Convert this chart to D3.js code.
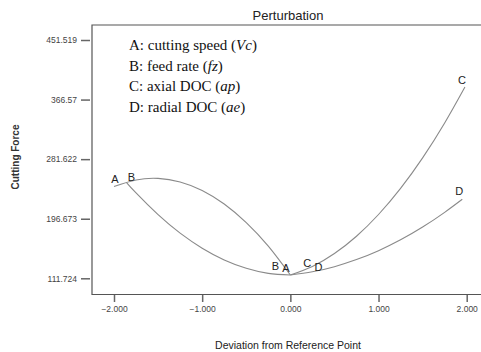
<!DOCTYPE html>
<html>
<head>
<meta charset="utf-8">
<script src="https://cdn.jsdelivr.net/npm/d3@7"></script>
<style>
  body { margin: 0; background: #fff; }
  svg { display: block; }
</style>
</head>
<body>
<div id="chart"></div>
<script>
const width = 481;
const height = 352;

// coded deviation values and response read for each factor
const devA = [-2.0, -1.75, -1.5, -1.25, -1.0, -0.75, -0.5, -0.25, 0];
const forceA = [242.7, 252.0, 254.2, 249.1, 237.0, 217.6, 191.1, 157.5, 116.4];
const devB = [-1.86, -1.75, -1.5, -1.25, -1.0, -0.75, -0.5, -0.25, 0];
const forceB = [248.6, 233.4, 202.4, 176.1, 154.6, 137.9, 126.0, 118.8, 116.4];
const devC = [0, 0.25, 0.5, 0.75, 1.0, 1.25, 1.5, 1.75, 1.98];
const forceC = [116.4, 128.6, 147.0, 171.7, 202.7, 239.9, 283.4, 333.2, 384.5];
const devD = [0, 0.25, 0.5, 0.75, 1.0, 1.25, 1.5, 1.75, 1.95];
const forceD = [116.4, 121.0, 128.3, 138.4, 151.1, 166.6, 184.8, 205.8, 224.4];

const yTicks = [111.724, 196.673, 281.622, 366.57, 451.519];
const xTicks = [-2, -1, 0, 1, 2];
const legendLines = [
  ["A: cutting speed (", "Vc", ")"],
  ["B: feed rate (", "fz", ")"],
  ["C: axial DOC (", "ap", ")"],
  ["D: radial DOC (", "ae", ")"]
];

const svg = d3.select("#chart")
  .append("svg")
  .attr("width", width)
  .attr("height", height);

const x = d3.scaleLinear().domain([-2, 2]).range([114, 466.7]);
const y = d3.scaleLinear().domain([111.724, 451.519]).range([278.3, 40]);

// frame (right side runs off the picture)
svg.append("path")
  .attr("d", "M 486 25 H 92 V 294.5 H 486")
  .attr("fill", "none")
  .attr("stroke", "#555")
  .attr("stroke-width", 1.2);

// y axis
const yAxis = svg.append("g")
  .attr("transform", "translate(90,0)")
  .call(d3.axisLeft(y).tickValues(yTicks).tickSize(9).tickPadding(4)
    .tickFormat(d => d3.format("")(d)));
yAxis.select(".domain").remove();
yAxis.selectAll("line").attr("stroke", "#666").attr("stroke-width", 1.5);
yAxis.selectAll("text")
  .attr("font-family", "Arial, 'Liberation Sans', sans-serif")
  .attr("font-size", "8.5px")
  .attr("fill", "#444");

// x axis
const xAxis = svg.append("g")
  .attr("transform", "translate(0,295)")
  .call(d3.axisBottom(x).tickValues(xTicks).tickSize(7).tickPadding(4)
    .tickFormat(d3.format(".3f")));
xAxis.select(".domain").remove();
xAxis.selectAll("line").attr("stroke", "#666").attr("stroke-width", 1.5);
xAxis.selectAll("text")
  .attr("font-family", "Arial, 'Liberation Sans', sans-serif")
  .attr("font-size", "8.5px")
  .attr("fill", "#444");

// curves
const line = d3.line()
  .x(d => x(d[0]))
  .y(d => y(d[1]))
  .curve(d3.curveNatural);

const series = [
  d3.zip(devA, forceA),
  d3.zip(devB, forceB),
  d3.zip(devC, forceC),
  d3.zip(devD, forceD)
];

svg.selectAll(".curve")
  .data(series)
  .enter()
  .append("path")
  .attr("class", "curve")
  .attr("d", line)
  .attr("fill", "none")
  .attr("stroke", "#8a8a8a")
  .attr("stroke-width", 1.1);

// curve end labels
const endLabels = [
  { t: "A", d: devA[0], v: forceA[0], dx: 1, dy: -3 },
  { t: "B", d: devB[0], v: forceB[0], dx: 5, dy: -1 },
  { t: "B", d: -0.17, v: 116.4, dx: 0, dy: -5 },
  { t: "A", d: -0.05, v: 116.4, dx: 0, dy: -3 },
  { t: "C", d: 0.19, v: 116.4, dx: 0, dy: -8 },
  { t: "D", d: 0.32, v: 116.4, dx: 0, dy: -4 },
  { t: "C", d: devC[devC.length - 1], v: forceC[forceC.length - 1], dx: -3, dy: -3 },
  { t: "D", d: devD[devD.length - 1], v: forceD[forceD.length - 1], dx: -3, dy: -4 }
];

svg.selectAll(".lbl")
  .data(endLabels)
  .enter()
  .append("text")
  .attr("class", "lbl")
  .attr("x", d => x(d.d) + d.dx)
  .attr("y", d => y(d.v) + d.dy)
  .attr("text-anchor", "middle")
  .attr("font-family", "Arial, 'Liberation Sans', sans-serif")
  .attr("font-size", "11px")
  .attr("fill", "#222")
  .text(d => d.t);

// title and axis titles
svg.append("text")
  .attr("x", 288)
  .attr("y", 20)
  .attr("text-anchor", "middle")
  .attr("font-family", "Arial, 'Liberation Sans', sans-serif")
  .attr("font-size", "13px")
  .attr("fill", "#222")
  .text("Perturbation");

svg.append("text")
  .attr("x", 288)
  .attr("y", 349)
  .attr("text-anchor", "middle")
  .attr("font-family", "Arial, 'Liberation Sans', sans-serif")
  .attr("font-size", "10.5px")
  .attr("fill", "#222")
  .text("Deviation from Reference Point");

svg.append("text")
  .attr("transform", "translate(19,157) rotate(-90)")
  .attr("text-anchor", "middle")
  .attr("font-family", "Arial, 'Liberation Sans', sans-serif")
  .attr("font-size", "10px")
  .attr("font-weight", "bold")
  .attr("fill", "#333")
  .text("Cutting Force");

// legend block
const legend = svg.append("g")
  .attr("font-family", "'Liberation Serif', 'Times New Roman', serif")
  .attr("font-size", "15px")
  .attr("fill", "#111");

legend.selectAll("text")
  .data(legendLines)
  .enter()
  .append("text")
  .attr("x", 129)
  .attr("y", (d, i) => 50 + i * 20.6)
  .each(function (d) {
    const t = d3.select(this);
    t.append("tspan").text(d[0]);
    t.append("tspan").attr("font-style", "italic").text(d[1]);
    t.append("tspan").text(d[2]);
  });
</script>
</body>
</html>
